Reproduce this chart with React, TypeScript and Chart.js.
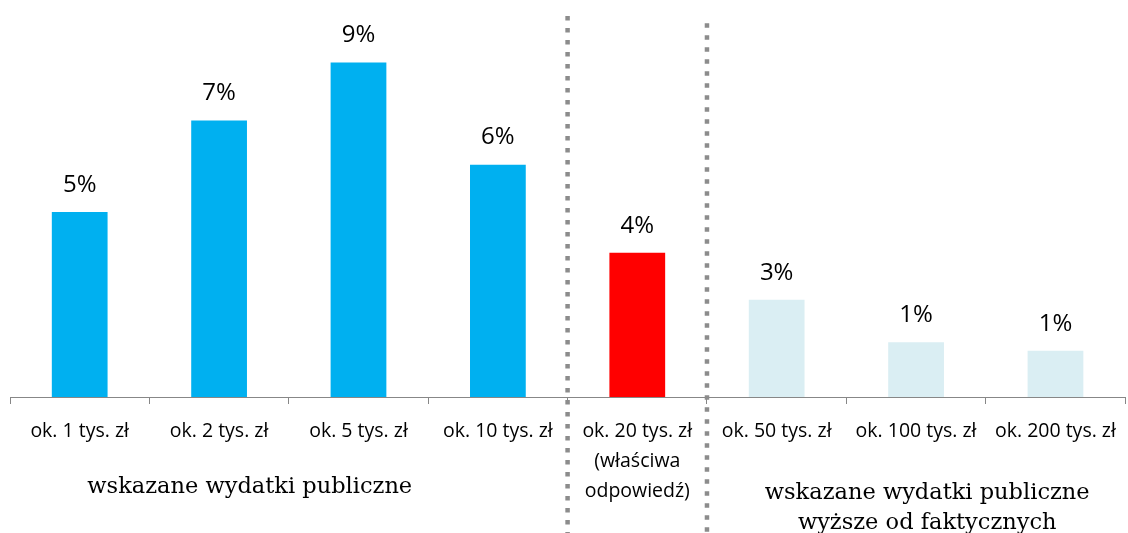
import React, { useEffect, useRef } from "react";
import { Chart, registerables } from "chart.js";

Chart.register(...registerables);

const categories: (string | string[])[] = [
  "ok. 1 tys. zł",
  "ok. 2 tys. zł",
  "ok. 5 tys. zł",
  "ok. 10 tys. zł",
  ["ok. 20 tys. zł", "(właściwa", "odpowiedź)"],
  "ok. 50 tys. zł",
  "ok. 100 tys. zł",
  "ok. 200 tys. zł",
];
const values = [5.0, 7.47, 9.04, 6.28, 3.9, 2.63, 1.48, 1.25];
const valueLabels = ["5%", "7%", "9%", "6%", "4%", "3%", "1%", "1%"];
const barColors = [
  "#00B0F0",
  "#00B0F0",
  "#00B0F0",
  "#00B0F0",
  "#FF0000",
  "#DAEEF3",
  "#DAEEF3",
  "#DAEEF3",
];
const groupLabels = [
  ["wskazane wydatki publiczne"],
  ["wskazane wydatki publiczne", "wyższe od faktycznych"],
];
const groupLabelAt = [1.22, 6.08];
const separatorsAt = [3.5, 4.5];
const separatorTops = [10.3, 10.1];

const SANS = "'Open Sans', 'Noto Sans', sans-serif";
const SERIF = "'DejaVu Serif', serif";

const overlayPlugin = {
  id: "overlay",
  afterDatasetsDraw(chart: any) {
    const ctx = chart.ctx;
    const meta = chart.getDatasetMeta(0);
    ctx.save();
    ctx.fillStyle = "#000000";
    ctx.font = `24px ${SANS}`;
    ctx.textAlign = "center";
    ctx.textBaseline = "middle";
    meta.data.forEach((el: any, i: number) => {
      ctx.fillText(valueLabels[i], el.x, el.y - 27);
    });
    ctx.restore();
  },
  afterDraw(chart: any) {
    const ctx = chart.ctx;
    const xs = chart.scales.x;
    const ys = chart.scales.y;
    ctx.save();
    // dotted separators
    ctx.strokeStyle = "#8C8C8C";
    ctx.lineWidth = 4.5;
    ctx.setLineDash([4.5, 7.5]);
    ctx.lineCap = "butt";
    separatorsAt.forEach((pos, i) => {
      const x = xs.getPixelForValue(pos);
      const top = ys.getPixelForValue(separatorTops[i]);
      ctx.beginPath();
      ctx.moveTo(x, top);
      ctx.lineTo(x, chart.height);
      ctx.stroke();
    });
    ctx.setLineDash([]);
    // group labels
    ctx.fillStyle = "#000000";
    ctx.font = `22.5px ${SERIF}`;
    ctx.textAlign = "center";
    ctx.textBaseline = "middle";
    const bottom = chart.chartArea.bottom;
    const firstLineOffsets = [90, 96];
    groupLabels.forEach((lines, g) => {
      const x = xs.getPixelForValue(groupLabelAt[g]);
      lines.forEach((line, k) => {
        ctx.fillText(line, x, bottom + firstLineOffsets[g] + k * 30);
      });
    });
    ctx.restore();
  },
};

export default function App() {
  const canvasRef = useRef<HTMLCanvasElement | null>(null);

  useEffect(() => {
    if (!canvasRef.current) return;
    const chart = new Chart(canvasRef.current, {
      type: "bar",
      data: {
        labels: categories,
        datasets: [
          {
            data: values,
            backgroundColor: barColors,
            borderWidth: 0,
            barPercentage: 0.4,
            categoryPercentage: 1,
          },
        ],
      },
      options: {
        animation: false,
        responsive: true,
        maintainAspectRatio: false,
        layout: { padding: { top: 27, left: 10, right: 1, bottom: 0 } },
        plugins: {
          legend: { display: false },
          tooltip: { enabled: false },
          title: { display: false },
        },
        scales: {
          x: {
            offset: true,
            grid: {
              offset: true,
              drawOnChartArea: false,
              drawTicks: true,
              tickLength: 7,
              color: "#878787",
              lineWidth: 1,
            },
            border: { display: true, color: "#878787", width: 1 },
            ticks: {
              color: "#000000",
              font: { family: SANS, size: 19.5, lineHeight: 1.55 },
              padding: 12,
              autoSkip: false,
              maxRotation: 0,
              minRotation: 0,
            },
            afterFit(scale: any) {
              scale.height = 136;
            },
          },
          y: {
            display: false,
            min: 0,
            max: 10,
          },
        },
      },
      plugins: [overlayPlugin],
    });
    return () => chart.destroy();
  }, []);

  return (
    <div
      style={{
        position: "fixed",
        left: 0,
        top: 0,
        width: 1128,
        height: 533,
        background: "#ffffff",
      }}
    >
      <canvas ref={canvasRef} />
    </div>
  );
}
